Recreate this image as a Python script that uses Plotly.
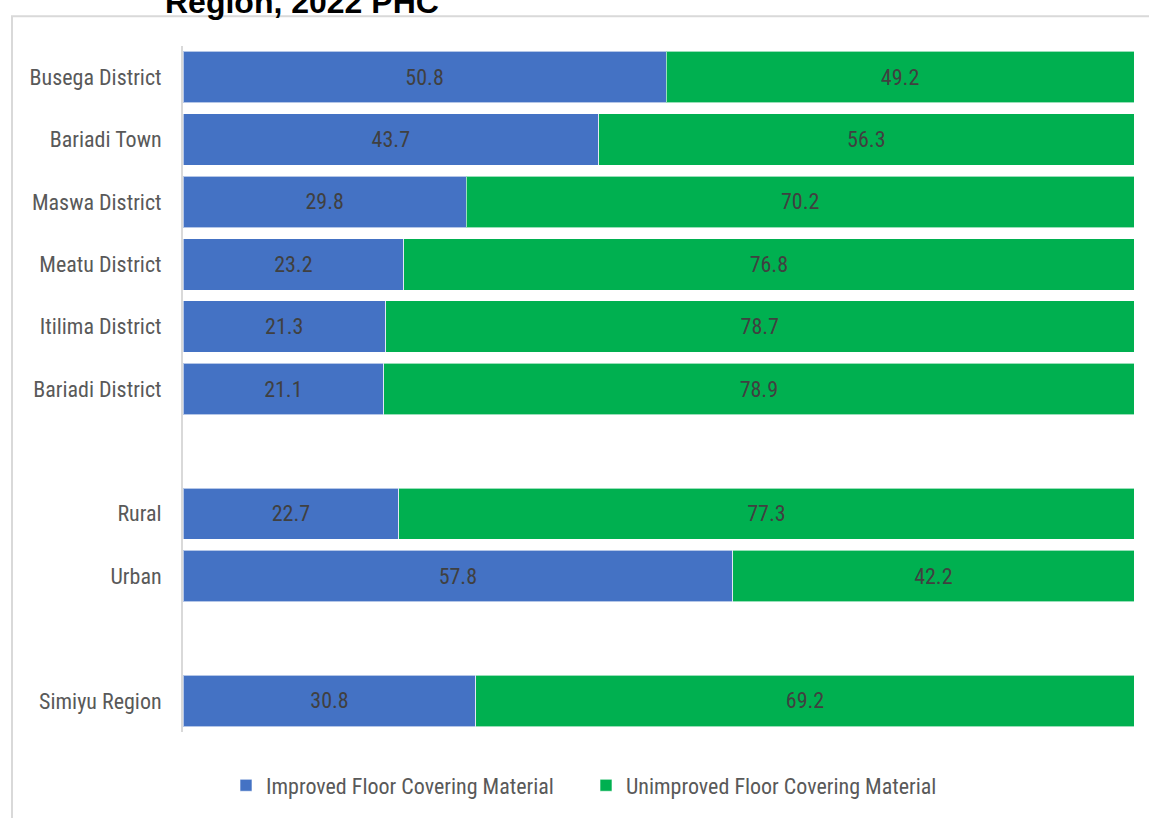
import plotly.graph_objects as go

categories = ["Busega District", "Bariadi Town", "Maswa District", "Meatu District",
              "Itilima District", "Bariadi District", None, "Rural", "Urban", None,
              "Simiyu Region"]
improved = [50.8, 43.7, 29.8, 23.2, 21.3, 21.1, None, 22.7, 57.8, None, 30.8]
unimproved = [49.2, 56.3, 70.2, 76.8, 78.7, 78.9, None, 77.3, 42.2, None, 69.2]
series_names = ["Improved Floor Covering Material", "Unimproved Floor Covering Material"]
title_text = "Region, 2022 PHC"

n = len(categories)
rows = [i for i, c in enumerate(categories) if c is not None]
ypos = [n - 1 - i for i in rows]
labels = [categories[i] for i in rows]

FONT = "Liberation Sans Narrow, Arial Narrow, Roboto Condensed, Liberation Sans, Arial, sans-serif"
W, H = 1149, 818
ML, MR, MT, MB = 183, 15, 46, 79
PW, PH = W - ML - MR, H - MT - MB

fig = go.Figure()
for name, vals, col in [(series_names[0], improved, "#4472C4"),
                        (series_names[1], unimproved, "#00B050")]:
    v = [vals[i] for i in rows]
    fig.add_trace(go.Bar(
        y=ypos, x=v, orientation="h", name=name,
        marker=dict(color=col, line=dict(color="rgba(255,255,255,0.6)", width=1)),
        width=0.825,
        text=[f"{x:.1f}" for x in v], textposition="inside",
        insidetextanchor="middle", textangle=0,
        textfont=dict(family=FONT, size=22, color="#404040"),
        hoverinfo="x+y",
    ))

def px_x(p):
    return (p - ML) / PW

def px_y(p):
    return (MT + PH - p) / PH

fig.update_layout(
    width=W, height=H,
    barmode="stack",
    plot_bgcolor="white", paper_bgcolor="white",
    margin=dict(l=ML, r=MR, t=MT, b=MB),
    font=dict(family=FONT, size=22, color="#595959"),
    xaxis=dict(range=[0, 100], visible=False, showgrid=False, fixedrange=True),
    yaxis=dict(range=[-0.5, n - 0.5], tickvals=ypos, ticktext=labels,
               showgrid=False, zeroline=False, showline=True,
               linecolor="#D9D9D9", linewidth=2, ticks="", ticklen=0,
               ticklabelstandoff=15,
               tickfont=dict(family=FONT, size=22, color="#595959"),
               automargin=False),
    showlegend=True,
    legend=dict(orientation="h", x=px_x(586), xanchor="center",
                y=px_y(793), yanchor="middle",
                font=dict(family=FONT, size=22, color="#595959"),
                itemwidth=30, entrywidth=315, entrywidthmode="pixels",
                traceorder="normal", bgcolor="rgba(0,0,0,0)"),
    uniformtext=dict(mode=False),
)

fig.add_shape(type="rect", xref="paper", yref="paper",
              x0=px_x(12), x1=px_x(1200), y0=px_y(16), y1=px_y(900),
              line=dict(color="#D9D9D9", width=2), fillcolor="rgba(0,0,0,0)",
              layer="below")

fig.add_annotation(text=f"<b>{title_text}</b>", xref="paper", yref="paper",
                   x=px_x(302), y=px_y(2), xanchor="center", yanchor="middle",
                   showarrow=False,
                   font=dict(family="Liberation Sans, Arial, sans-serif", size=32, color="#000000"))

fig.write_html("out.html", config={"displayModeBar": False},
               post_script="document.body.style.margin='0';document.body.style.overflow='hidden';")
